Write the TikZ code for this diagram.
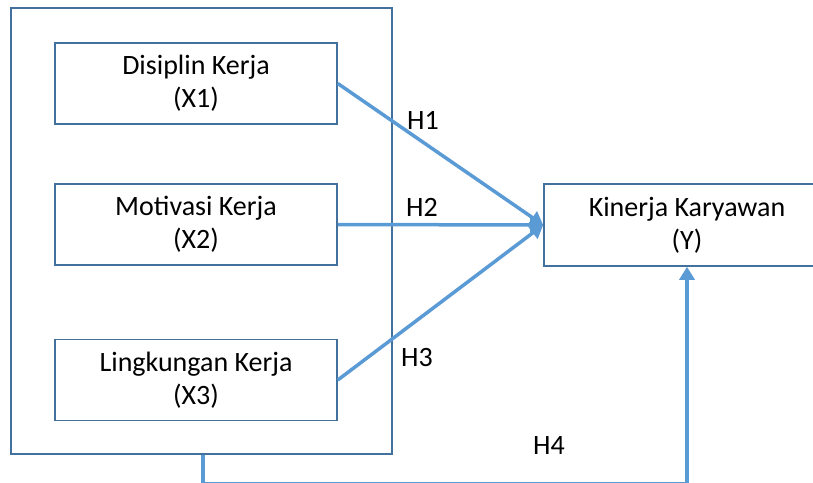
\documentclass[tikz,border=0pt]{standalone}
\usepackage{fontspec}
\setmainfont{Carlito}
\usetikzlibrary{arrows.meta}
\definecolor{boxline}{HTML}{41719C}
\definecolor{arrowc}{HTML}{5B9BD5}
\begin{document}
\begin{tikzpicture}[x=1pt,y=-1pt,
  box/.style={draw=boxline,line width=1.6pt,minimum width=282pt,minimum height=81pt,inner sep=0pt,align=center,font=\fontsize{28}{33}\selectfont},
  conn/.style={draw=arrowc,line width=3.5pt},
  tip/.style={-{Triangle[length=13pt,width=15pt]}},
  lbl/.style={font=\fontsize{28}{33}\selectfont,inner sep=0pt}]
\useasboundingbox (0,0) rectangle (813,482);
\begin{scope}
\clip (0,0) rectangle (813,482);
\node[draw=boxline,line width=1.6pt,minimum width=381pt,minimum height=446pt,inner sep=0pt] (outer) at (201.5,231) {};
\node[box] (x1) at (196,83.5) {Disiplin Kerja\\(X1)};
\node[box] (x2) at (196,224.5) {Motivasi Kerja\\(X2)};
\node[box] (x3) at (196,380) {Lingkungan Kerja\\(X3)};
\node[box,minimum width=286pt,minimum height=82pt] (y) at (687,225) {Kinerja Karyawan\\(Y)};
\coordinate (tgt) at (y.west);
\draw[conn,tip] (x1.east) -- (tgt);
\draw[conn,tip] (x2.east) -- (tgt);
\draw[conn,tip] (x3.east) -- (tgt);
\coordinate (bl) at (203,483.5);
\draw[conn,tip] (outer.south -| bl) -- (bl) -| (y.south);
\node[lbl] (h1) at (423,120) {H1};
\node[lbl] (h2) at (422,207) {H2};
\node[lbl] (h3) at (417,358) {H3};
\node[lbl] (h4) at (549,446) {H4};
\end{scope}
\end{tikzpicture}
\end{document}
